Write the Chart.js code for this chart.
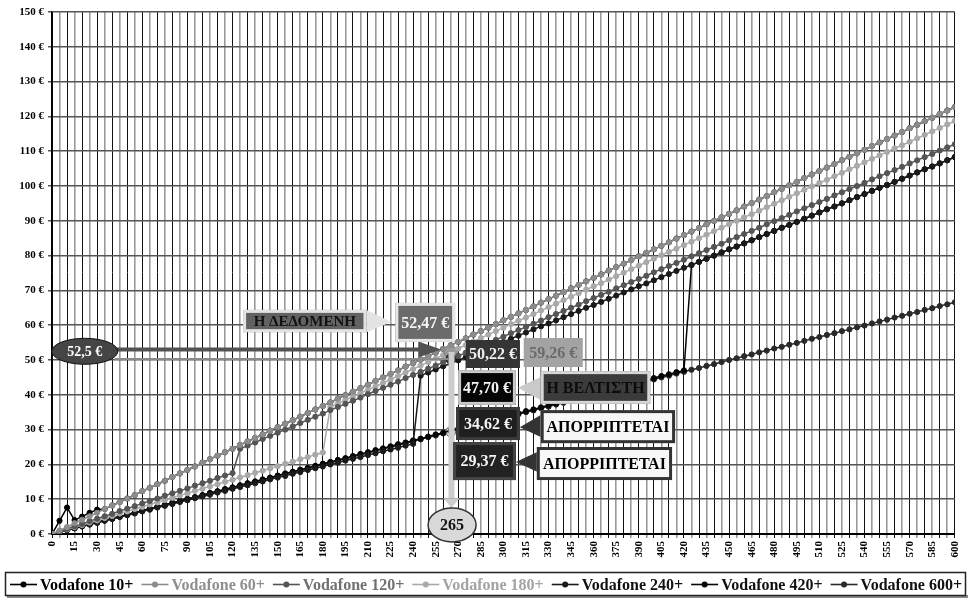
<!DOCTYPE html>
<html><head><meta charset="utf-8">
<script src="https://cdn.jsdelivr.net/npm/chart.js@4"></script>
<style>html,body{margin:0;padding:0;background:#fff;}</style>
</head><body>
<canvas id="c" width="971" height="599"></canvas>
<script>
// ---------- data ----------
const minutes = [0,5,10,15,20,25,30,35,40,45,50,55,60,65,70,75,80,85,90,95,100,105,110,115,120,125,130,135,140,145,150,155,160,165,170,175,180,185,190,195,200,205,210,215,220,225,230,235,240,245,250,255,260,265,270,275,280,285,290,295,300,305,310,315,320,325,330,335,340,345,350,355,360,365,370,375,380,385,390,395,400,405,410,415,420,425,430,435,440,445,450,455,460,465,470,475,480,485,490,495,500,505,510,515,520,525,530,535,540,545,550,555,560,565,570,575,580,585,590,595,600];
const xTickLabels = ['0','15','30','45','60','75','90','105','120','135','150','165','180','195','210','225','240','255','270','285','300','315','330','345','360','375','390','405','420','435','450','465','480','495','510','525','540','555','570','585','600'];
const yTickLabels = ['0 €','10 €','20 €','30 €','40 €','50 €','60 €','70 €','80 €','90 €','100 €','110 €','120 €','130 €','140 €','150 €'];
const seriesNames = ['Vodafone 10+','Vodafone 60+','Vodafone 120+','Vodafone 180+','Vodafone 240+','Vodafone 420+','Vodafone 600+'];

const vodafone10 = [0,3.8,7.6,4.0,5.0,6.1,7.0,7.2,8.2,9.2,
10.2,11.2,12.3,13.3,14.3,15.3,16.4,17.4,18.4,19.4,
20.5,21.5,22.5,23.5,24.5,25.6,26.6,27.6,28.6,29.7,
30.7,31.7,32.7,33.7,34.8,35.8,36.8,37.8,38.9,39.9,
40.9,41.9,42.9,44.0,45.0,46.0,47.0,48.1,49.1,50.1,
51.1,52.1,53.2,54.2,55.2,56.2,57.3,58.3,59.3,60.3,
61.4,62.4,63.4,64.4,65.4,66.5,67.5,68.5,69.5,70.6,
71.6,72.6,73.6,74.6,75.7,76.7,77.7,78.7,79.8,80.8,
81.8,82.8,83.8,84.9,85.9,86.9,87.9,89.0,90.0,91.0,
92.0,93.0,94.1,95.1,96.1,97.1,98.2,99.2,100.2,101.2,
102.3,103.3,104.3,105.3,106.3,107.4,108.4,109.4,110.4,111.5,
112.5,113.5,114.5,115.5,116.6,117.6,118.6,119.6,120.7,121.7,
122.7];
const vodafone60 = [0,1.0,2.0,3.1,4.1,5.1,6.1,7.2,8.2,9.2,
10.2,11.2,12.3,13.3,14.3,15.3,16.4,17.4,18.4,19.4,
20.5,21.5,22.5,23.5,24.5,25.6,26.6,27.6,28.6,29.7,
30.7,31.7,32.7,33.7,34.8,35.8,36.8,37.8,38.9,39.9,
40.9,41.9,42.9,44.0,45.0,46.0,47.0,48.1,49.1,50.1,
51.1,52.1,53.2,54.2,55.2,56.2,57.3,58.3,59.3,60.3,
61.4,62.4,63.4,64.4,65.4,66.5,67.5,68.5,69.5,70.6,
71.6,72.6,73.6,74.6,75.7,76.7,77.7,78.7,79.8,80.8,
81.8,82.8,83.8,84.9,85.9,86.9,87.9,89.0,90.0,91.0,
92.0,93.0,94.1,95.1,96.1,97.1,98.2,99.2,100.2,101.2,
102.3,103.3,104.3,105.3,106.3,107.4,108.4,109.4,110.4,111.5,
112.5,113.5,114.5,115.5,116.6,117.6,118.6,119.6,120.7,121.7,
122.7];
const vodafone120 = [0,0.7,1.5,2.2,2.9,3.7,4.4,5.1,5.8,6.6,
7.3,8.0,8.8,9.5,10.2,11.0,11.7,12.4,13.1,13.9,
14.6,15.3,16.1,16.8,17.5,24.5,25.4,26.3,27.3,28.2,
29.1,30.0,30.9,31.9,32.8,33.7,34.6,35.6,36.5,37.4,
38.3,39.2,40.2,41.1,42.0,42.9,43.8,44.8,45.7,46.6,
47.5,48.4,49.4,50.3,51.2,52.1,53.1,54.0,54.9,55.8,
56.7,57.7,58.6,59.5,60.4,61.3,62.3,63.2,64.1,65.0,
65.9,66.9,67.8,68.7,69.6,70.6,71.5,72.4,73.3,74.2,
75.2,76.1,77.0,77.9,78.8,79.8,80.7,81.6,82.5,83.4,
84.4,85.3,86.2,87.1,88.0,89.0,89.9,90.8,91.7,92.7,
93.6,94.5,95.4,96.3,97.3,98.2,99.1,100.0,100.9,101.9,
102.8,103.7,104.6,105.5,106.5,107.4,108.3,109.2,110.2,111.1,
112.0];
const vodafone180 = [0,0.7,1.3,2.0,2.6,3.3,3.9,4.6,5.2,5.9,
6.5,7.2,7.8,8.5,9.1,9.8,10.4,11.1,11.7,12.4,
13.0,13.7,14.3,15.0,15.6,16.3,16.9,17.6,18.2,18.9,
19.5,20.2,20.8,21.5,22.1,22.8,23.4,36.5,37.5,38.5,
39.5,40.5,41.5,42.4,43.4,44.4,45.4,46.4,47.4,48.4,
49.4,50.4,51.4,52.3,53.3,54.3,55.3,56.3,57.3,58.3,
59.3,60.3,61.3,62.2,63.2,64.2,65.2,66.2,67.2,68.2,
69.2,70.2,71.2,72.1,73.1,74.1,75.1,76.1,77.1,78.1,
79.1,80.1,81.1,82.0,83.0,84.0,85.0,86.0,87.0,88.0,
89.0,90.0,91.0,91.9,92.9,93.9,94.9,95.9,96.9,97.9,
98.9,99.9,100.9,101.8,102.8,103.8,104.8,105.8,106.8,107.8,
108.8,109.8,110.8,111.7,112.7,113.7,114.7,115.7,116.7,117.7,
118.7];
const vodafone240 = [0,0.5,1.1,1.6,2.2,2.7,3.2,3.8,4.3,4.9,
5.4,5.9,6.5,7.0,7.6,8.1,8.6,9.2,9.7,10.3,
10.8,11.3,11.9,12.4,13.0,13.5,14.0,14.6,15.1,15.7,
16.2,16.7,17.3,17.8,18.4,18.9,19.4,20.0,20.5,21.1,
21.6,22.1,22.7,23.2,23.8,24.3,24.8,25.4,25.9,45.5,
46.4,47.3,48.2,49.0,49.9,50.8,51.7,52.6,53.5,54.3,
55.2,56.1,57.0,57.9,58.8,59.7,60.5,61.4,62.3,63.2,
64.1,65.0,65.8,66.7,67.6,68.5,69.4,70.3,71.2,72.0,
72.9,73.8,74.7,75.6,76.5,77.3,78.2,79.1,80.0,80.9,
81.8,82.6,83.5,84.4,85.3,86.2,87.1,88.0,88.8,89.7,
90.6,91.5,92.4,93.3,94.1,95.0,95.9,96.8,97.7,98.6,
99.5,100.3,101.2,102.1,103.0,103.9,104.8,105.6,106.5,107.4,
108.3];
const vodafone420 = [0,0.6,1.1,1.7,2.2,2.8,3.4,3.9,4.5,5.0,
5.6,6.2,6.7,7.3,7.8,8.4,9.0,9.5,10.1,10.6,
11.2,11.8,12.3,12.9,13.4,14.0,14.6,15.1,15.7,16.2,
16.8,17.4,17.9,18.5,19.0,19.6,20.2,20.7,21.3,21.8,
22.4,23.0,23.5,24.1,24.6,25.2,25.8,26.3,26.9,27.4,
28.0,28.6,29.1,29.7,30.2,30.8,31.4,31.9,32.5,33.0,
33.6,34.2,34.7,35.3,35.8,36.4,37.0,37.5,38.1,38.6,
39.2,39.8,40.3,40.9,41.4,42.0,42.6,43.1,43.7,44.2,
44.8,45.4,45.9,46.5,47.0,77.3,78.2,79.1,80.0,80.9,
81.8,82.6,83.5,84.4,85.3,86.2,87.1,88.0,88.8,89.7,
90.6,91.5,92.4,93.3,94.1,95.0,95.9,96.8,97.7,98.6,
99.5,100.3,101.2,102.1,103.0,103.9,104.8,105.6,106.5,107.4,
108.3];
const vodafone600 = [0,0.6,1.1,1.7,2.2,2.8,3.3,3.9,4.4,5.0,
5.6,6.1,6.7,7.2,7.8,8.3,8.9,9.4,10.0,10.5,
11.1,11.7,12.2,12.8,13.3,13.9,14.4,15.0,15.5,16.1,
16.7,17.2,17.8,18.3,18.9,19.4,20.0,20.5,21.1,21.6,
22.2,22.8,23.3,23.9,24.4,25.0,25.5,26.1,26.6,27.2,
27.8,28.3,28.9,29.4,30.0,30.5,31.1,31.6,32.2,32.7,
33.3,33.9,34.4,35.0,35.5,36.1,36.6,37.2,37.7,38.3,
38.9,39.4,40.0,40.5,41.1,41.6,42.2,42.7,43.3,43.8,
44.4,45.0,45.5,46.1,46.6,47.2,47.7,48.3,48.8,49.4,
50.0,50.5,51.1,51.6,52.2,52.7,53.3,53.8,54.4,54.9,
55.5,56.1,56.6,57.2,57.7,58.3,58.8,59.4,59.9,60.5,
61.1,61.6,62.2,62.7,63.3,63.8,64.4,64.9,65.5,66.0,
66.6];

// highlighted minute and reference values / callout texts
const markedMinute = 265;
const givenValue = 52.5;
const givenText = '52,5 €';
const markedText = '265';

// ---------- styles ----------
const FONT = '"Liberation Serif", "Times New Roman", serif';
const seriesValues = [vodafone10, vodafone60, vodafone120, vodafone180, vodafone240, vodafone420, vodafone600];
const lineColors = ['#000000','#8c8c8c','#555555','#a9a9a9','#1a1a1a','#050505','#2a2a2a'];
const legendTextColors = ['#000000','#8f8f8f','#707070','#a3a3a3','#111111','#111111','#111111'];
const drawOrder = [9,0,1,2,3,4,5];
const bigPoint = {2:{r:5,bg:'#3d3d3d',bd:'#222'},3:{r:6.5,bg:'#9a9a9a',bd:'#7a7a7a'},6:{r:5,bg:'#d0d0d0',bd:'#555'}};
const markIndex = minutes.indexOf(markedMinute);

const calloutBoxes = [
  {text:'Η ΔΕΔΟΜΕΝΗ', x1:127, x2:209, y1:64.4, y2:58.0, fill:'#626262', stroke:'#e3e3e3', lw:3, color:'#111', size:15},
  {text:'52,47 €', x1:228.2, x2:267.9, y1:66.4, y2:55.2, fill:'#6b6b6b', stroke:'#e6e6e6', lw:3, color:'#f4f4f4', size:16},
  {text:'50,22 €', x1:275.2, x2:310.9, y1:55.7, y2:47.7, fill:'#353535', stroke:'#353535', lw:1, color:'#f0f0f0', size:16},
  {text:'59,26 €', x1:313.6, x2:352.6, y1:56.3, y2:48.0, fill:'#a3a3a3', stroke:'#a3a3a3', lw:1, color:'#6a6a6a', size:16},
  {text:'47,70 €', x1:269.9, x2:308.3, y1:47.1, y2:37.1, fill:'#050505', stroke:'#c8c8c8', lw:3, color:'#f4f4f4', size:16},
  {text:'Η ΒΕΛΤΙΣΤΗ', x1:324.8, x2:397.6, y1:46.8, y2:37.4, fill:'#3b3b3b', stroke:'#d6d6d6', lw:3, color:'#0c0c0c', size:16},
  {text:'34,62 €', x1:268.6, x2:310.9, y1:36.5, y2:27.0, fill:'#1f1f1f', stroke:'#3a3a3a', lw:3, color:'#f4f4f4', size:16},
  {text:'ΑΠΟΡΡΙΠΤΕΤΑΙ', x1:324.8, x2:414.1, y1:35.6, y2:26.1, fill:'#f7f7f7', stroke:'#333', lw:3, color:'#000', size:16},
  {text:'29,37 €', x1:266.6, x2:308.3, y1:26.4, y2:15.5, fill:'#222', stroke:'#444', lw:3, color:'#f4f4f4', size:16},
  {text:'ΑΠΟΡΡΙΠΤΕΤΑΙ', x1:322.2, x2:412.1, y1:25.0, y2:15.5, fill:'#f7f7f7', stroke:'#333', lw:3, color:'#000', size:16}
];
const pointers = [
  {tip:[225.6,60.9], base:[209,64.4,58.0], color:'#e3e3e3'},
  {tip:[309.6,42.0], base:[324.8,45.1,38.5], color:'#cacaca'},
  {tip:[310.9,30.7], base:[324.8,34.2,27.9], color:'#333'},
  {tip:[308.3,20.7], base:[322.8,23.6,17.8], color:'#333'}
];

function X(c,v){return c.scales.x.getPixelForValue(v);}
function Y(c,v){return c.scales.y.getPixelForValue(v);}
function txt(ctx,t,x,y,color,size){
  ctx.font = 'bold '+size+'px '+FONT; ctx.fillStyle=color;
  ctx.textAlign='center'; ctx.textBaseline='middle'; ctx.fillText(t,x,y);
}
function ellipse(ctx,cx,cy,rx,ry,fill,stroke,lw){
  ctx.beginPath(); ctx.ellipse(cx,cy,rx,ry,0,0,Math.PI*2);
  ctx.fillStyle=fill; ctx.fill(); ctx.lineWidth=lw; ctx.strokeStyle=stroke; ctx.stroke();
}

const annotations = {
  id:'annotations',
  afterDatasetsDraw(chart){
    const ctx = chart.ctx; ctx.save();
    // vertical marker line with arrow down to minute ellipse
    const vx = X(chart, markedMinute+0.5);
    const vTop = Y(chart, 52.3), tip = Y(chart, 7.5), headTop = Y(chart, 10.3);
    ctx.fillStyle = '#cdcdcd';
    ctx.fillRect(vx-3, vTop, 6, headTop-vTop);
    ctx.beginPath(); ctx.moveTo(vx-8, headTop); ctx.lineTo(vx+8, headTop); ctx.lineTo(vx, tip); ctx.closePath(); ctx.fill();
    // horizontal lines from the given-value ellipse
    const ex = X(chart, 21.8), ey = Y(chart, givenValue);
    const hy = Y(chart, 53.0), hy2 = Y(chart, 50.3);
    ctx.strokeStyle = '#8a8a8a'; ctx.lineWidth = 2;
    ctx.beginPath(); ctx.moveTo(ex+30, hy2); ctx.lineTo(X(chart,263.3), hy2); ctx.stroke();
    const arrowTip = X(chart, 258.7);
    ctx.strokeStyle = '#525252'; ctx.lineWidth = 4;
    ctx.beginPath(); ctx.moveTo(ex+30, hy); ctx.lineTo(arrowTip-20, hy); ctx.stroke();
    ctx.fillStyle = '#525252';
    ctx.beginPath(); ctx.moveTo(arrowTip-23, hy-8); ctx.lineTo(arrowTip, hy); ctx.lineTo(arrowTip-23, hy+8); ctx.closePath(); ctx.fill();
    ellipse(ctx, ex, ey, 33, 13, '#454545', '#111', 1);
    txt(ctx, givenText, ex, ey+1, '#ffffff', 14);
    // pointers
    pointers.forEach(p=>{
      ctx.fillStyle = p.color; ctx.beginPath();
      ctx.moveTo(X(chart,p.base[0]), Y(chart,p.base[1]));
      ctx.lineTo(X(chart,p.tip[0]), Y(chart,p.tip[1]));
      ctx.lineTo(X(chart,p.base[0]), Y(chart,p.base[2]));
      ctx.closePath(); ctx.fill();
    });
    // boxes
    calloutBoxes.forEach(b=>{
      const x1=X(chart,b.x1), x2=X(chart,b.x2), y1=Y(chart,b.y1), y2=Y(chart,b.y2);
      ctx.fillStyle=b.fill; ctx.fillRect(x1,y1,x2-x1,y2-y1);
      ctx.lineWidth=b.lw; ctx.strokeStyle=b.stroke;
      ctx.strokeRect(x1+b.lw/2,y1+b.lw/2,x2-x1-b.lw,y2-y1-b.lw);
      txt(ctx,b.text,(x1+x2)/2,(y1+y2)/2+1,b.color,b.size);
    });
    ctx.restore();
  },
  afterDraw(chart){
    const ctx = chart.ctx; ctx.save();
    // minute ellipse
    ellipse(ctx, X(chart, 265.9), Y(chart, 2.6), 24, 17, '#d9d9d9', '#333', 1.5);
    txt(ctx, markedText, X(chart, 265.9), Y(chart, 2.6)+1, '#111', 16);
    // legend
    const top = chart.height-27, h = 24, left = 5, right = 966;
    ctx.fillStyle = '#8a8a8a'; ctx.fillRect(left+2, top+h-1, right-left, 3);
    ctx.fillStyle = '#fff'; ctx.fillRect(left, top, right-left, h);
    ctx.strokeStyle = '#222'; ctx.lineWidth = 1.5; ctx.strokeRect(left+0.5, top+0.5, right-left-1, h-1);
    ctx.font = 'bold 16px '+FONT;
    const symW = 27, gapTxt = 3;
    const widths = seriesNames.map(n=>ctx.measureText(n).width);
    const total = widths.reduce((a,w)=>a+symW+gapTxt+w,0);
    const startX = 10, endX = 962;
    const gap = (endX-startX-total)/(seriesNames.length-1);
    let x = startX; const cy = top + h/2 + 0.5;
    seriesNames.forEach((n,i)=>{
      ctx.strokeStyle = lineColors[i]; ctx.lineWidth = 1.6;
      ctx.beginPath(); ctx.moveTo(x, cy); ctx.lineTo(x+symW, cy); ctx.stroke();
      ctx.fillStyle = lineColors[i]; ctx.beginPath(); ctx.arc(x+symW/2, cy, 3, 0, Math.PI*2); ctx.fill();
      ctx.fillStyle = legendTextColors[i]; ctx.textAlign='left'; ctx.textBaseline='middle';
      ctx.fillText(n, x+symW+gapTxt, cy+1);
      x += symW+gapTxt+widths[i]+gap;
    });
    ctx.restore();
  }
};

const datasets = seriesValues.map((vals,i)=>({
  label: seriesNames[i],
  data: vals,
  order: drawOrder[i],
  borderColor: lineColors[i],
  backgroundColor: lineColors[i],
  borderWidth: 1.5,
  pointRadius: c => (c.dataIndex===markIndex && bigPoint[i]) ? bigPoint[i].r : 2.6,
  pointBackgroundColor: c => (c.dataIndex===markIndex && bigPoint[i]) ? bigPoint[i].bg : lineColors[i],
  pointBorderColor: c => (c.dataIndex===markIndex && bigPoint[i]) ? bigPoint[i].bd : lineColors[i],
  pointBorderWidth: 1,
  tension: 0,
  fill: false
}));

new Chart(document.getElementById('c'), {
  type: 'line',
  data: { labels: minutes, datasets },
  options: {
    responsive: false, animation: false, events: [],
    layout: { padding: { top: 12, right: 12, bottom: 30, left: 0 } },
    plugins: { legend: { display: false }, tooltip: { enabled: false } },
    scales: {
      x: {
        type: 'linear', min: 0, max: 600,
        afterFit: s => { s.height = 35; },
        border: { color: '#000', width: 2 },
        grid: { color: c => (c.index % 2 === 0 ? '#111' : '#9a9a9a'), lineWidth: c => (c.index % 2 === 0 ? 1 : 1.6), tickLength: 4 },
        ticks: { stepSize: 5, maxTicksLimit: 200, autoSkip: false, minRotation: 90, maxRotation: 90, padding: 3,
          color: '#000', font: { family: FONT, size: 11, weight: 'bold' },
          callback: v => (xTickLabels.includes(String(v)) ? String(v) : '') }
      },
      y: {
        min: 0, max: 150,
        afterFit: s => { s.width = 52; },
        border: { color: '#000', width: 1.5 },
        grid: { color: '#555', lineWidth: 1.5, tickLength: 4 },
        ticks: { stepSize: 10, padding: 4, color: '#000', font: { family: FONT, size: 11, weight: 'bold' },
          callback: (v, i) => yTickLabels[i] }
      }
    }
  },
  plugins: [annotations]
});
</script>
</body></html>
